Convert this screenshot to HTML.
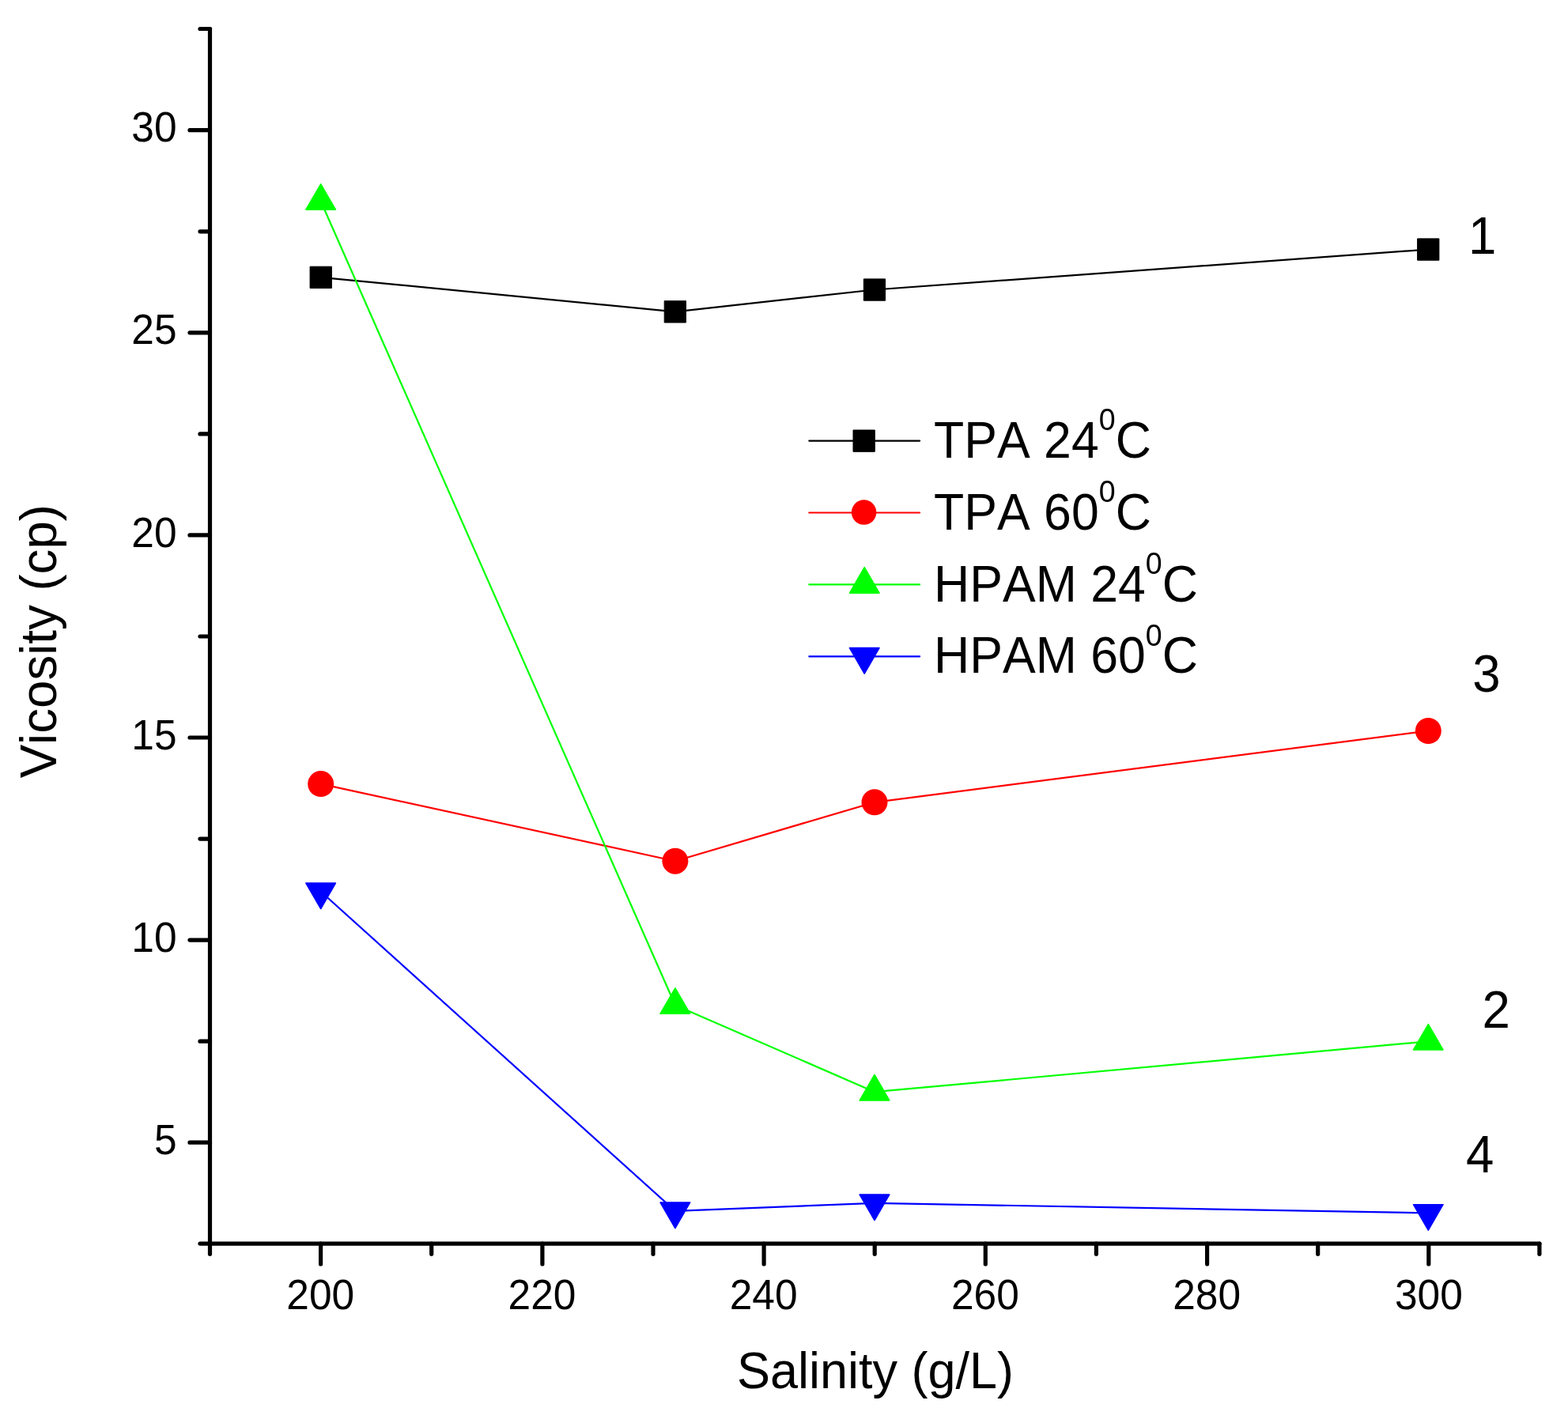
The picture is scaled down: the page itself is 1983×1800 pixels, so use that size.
<!DOCTYPE html>
<html lang="en">
<head>
<meta charset="utf-8">
<title>Viscosity vs Salinity</title>
<style>
html,body{margin:0;padding:0;background:#fff;}
body{width:1983px;height:1800px;overflow:hidden;}
svg{display:block;}
text{font-family:"Liberation Sans",Arial,Helvetica,sans-serif;fill:#000;font-kerning:none;}
</style>
</head>
<body>
<svg width="1983" height="1800" viewBox="0 0 1983 1800">
<rect width="1983" height="1800" fill="#fff"/>
<g stroke="#000" stroke-width="5.2" stroke-linecap="round" fill="none">
<line x1="265.5" y1="36.5" x2="265.5" y2="1573.1"/>
<line x1="265.5" y1="1573.1" x2="1946.9" y2="1573.1"/>
<line x1="240.0" y1="164.7" x2="265.5" y2="164.7"/>
<line x1="240.0" y1="420.8" x2="265.5" y2="420.8"/>
<line x1="240.0" y1="676.9" x2="265.5" y2="676.9"/>
<line x1="240.0" y1="933.0" x2="265.5" y2="933.0"/>
<line x1="240.0" y1="1189.1" x2="265.5" y2="1189.1"/>
<line x1="240.0" y1="1445.2" x2="265.5" y2="1445.2"/>
<line x1="253.0" y1="36.5" x2="265.5" y2="36.5"/>
<line x1="253.0" y1="292.8" x2="265.5" y2="292.8"/>
<line x1="253.0" y1="548.9" x2="265.5" y2="548.9"/>
<line x1="253.0" y1="805.0" x2="265.5" y2="805.0"/>
<line x1="253.0" y1="1061.1" x2="265.5" y2="1061.1"/>
<line x1="253.0" y1="1317.2" x2="265.5" y2="1317.2"/>
<line x1="253.0" y1="1573.1" x2="265.5" y2="1573.1"/>
<line x1="405.6" y1="1573.1" x2="405.6" y2="1598.9"/>
<line x1="685.9" y1="1573.1" x2="685.9" y2="1598.9"/>
<line x1="966.1" y1="1573.1" x2="966.1" y2="1598.9"/>
<line x1="1246.3" y1="1573.1" x2="1246.3" y2="1598.9"/>
<line x1="1526.6" y1="1573.1" x2="1526.6" y2="1598.9"/>
<line x1="1806.8" y1="1573.1" x2="1806.8" y2="1598.9"/>
<line x1="265.5" y1="1573.1" x2="265.5" y2="1586.3"/>
<line x1="545.7" y1="1573.1" x2="545.7" y2="1586.3"/>
<line x1="826.0" y1="1573.1" x2="826.0" y2="1586.3"/>
<line x1="1106.2" y1="1573.1" x2="1106.2" y2="1586.3"/>
<line x1="1386.4" y1="1573.1" x2="1386.4" y2="1586.3"/>
<line x1="1666.7" y1="1573.1" x2="1666.7" y2="1586.3"/>
<line x1="1946.9" y1="1573.1" x2="1946.9" y2="1586.3"/>
</g>
<text transform="translate(223.60 179.30) scale(1 1.035)" font-size="51.5" text-anchor="end">30</text>
<text transform="translate(223.60 435.40) scale(1 1.035)" font-size="51.5" text-anchor="end">25</text>
<text transform="translate(223.60 691.50) scale(1 1.035)" font-size="51.5" text-anchor="end">20</text>
<text transform="translate(223.60 947.60) scale(1 1.035)" font-size="51.5" text-anchor="end">15</text>
<text transform="translate(223.60 1203.70) scale(1 1.035)" font-size="51.5" text-anchor="end">10</text>
<text transform="translate(223.60 1459.80) scale(1 1.035)" font-size="51.5" text-anchor="end">5</text>
<text transform="translate(405.22 1656.00) scale(1 1.035)" font-size="51.5" text-anchor="middle">200</text>
<text transform="translate(685.45 1656.00) scale(1 1.035)" font-size="51.5" text-anchor="middle">220</text>
<text transform="translate(965.68 1656.00) scale(1 1.035)" font-size="51.5" text-anchor="middle">240</text>
<text transform="translate(1245.92 1656.00) scale(1 1.035)" font-size="51.5" text-anchor="middle">260</text>
<text transform="translate(1526.15 1656.00) scale(1 1.035)" font-size="51.5" text-anchor="middle">280</text>
<text transform="translate(1806.89 1656.00) scale(1 1.035)" font-size="51.5" text-anchor="middle">300</text>
<text transform="translate(1107.00 1756.00) scale(1 1.02)" font-size="63" text-anchor="middle">Salinity (g/L)</text>
<text transform="translate(70.50 811.20) rotate(-90) scale(1 1.02)" font-size="63.6" text-anchor="middle">Vicosity (cp)</text>
<polyline points="405.7,350.8 853.9,394.3 1106.0,366.5 1806.3,315.5" fill="none" stroke="#000000" stroke-width="2.2" stroke-linecap="round" stroke-linejoin="round"/>
<rect x="392.1" y="337.2" width="27.3" height="27.3" fill="#000000" stroke="#000000" stroke-width="1" stroke-linejoin="round"/>
<rect x="840.2" y="380.7" width="27.3" height="27.3" fill="#000000" stroke="#000000" stroke-width="1" stroke-linejoin="round"/>
<rect x="1092.3" y="352.9" width="27.3" height="27.3" fill="#000000" stroke="#000000" stroke-width="1" stroke-linejoin="round"/>
<rect x="1792.6" y="301.9" width="27.3" height="27.3" fill="#000000" stroke="#000000" stroke-width="1" stroke-linejoin="round"/>
<polyline points="405.7,991.6 853.9,1089.2 1106.0,1014.8 1806.3,924.5" fill="none" stroke="#ff0000" stroke-width="2.2" stroke-linecap="round" stroke-linejoin="round"/>
<circle cx="405.7" cy="991.6" r="16.5" fill="#ff0000"/>
<circle cx="853.9" cy="1089.2" r="16.5" fill="#ff0000"/>
<circle cx="1106.0" cy="1014.8" r="16.5" fill="#ff0000"/>
<circle cx="1806.3" cy="924.5" r="16.5" fill="#ff0000"/>
<polyline points="405.7,254.5 853.9,1271.5 1106.0,1381.2 1806.3,1317.3" fill="none" stroke="#00ff00" stroke-width="2.2" stroke-linecap="round" stroke-linejoin="round"/>
<polygon points="405.7,232.8 424.4,265.2 386.9,265.2" fill="#00ff00" stroke="#00ff00" stroke-width="1.6" stroke-linejoin="round"/>
<polygon points="853.9,1249.8 872.6,1282.2 835.1,1282.2" fill="#00ff00" stroke="#00ff00" stroke-width="1.6" stroke-linejoin="round"/>
<polygon points="1106.0,1359.5 1124.8,1391.9 1087.2,1391.9" fill="#00ff00" stroke="#00ff00" stroke-width="1.6" stroke-linejoin="round"/>
<polygon points="1806.3,1295.6 1825.0,1328.0 1787.5,1328.0" fill="#00ff00" stroke="#00ff00" stroke-width="1.6" stroke-linejoin="round"/>
<polyline points="405.7,1127.8 853.9,1531.8 1106.0,1521.8 1806.3,1534.4" fill="none" stroke="#0000ff" stroke-width="2.2" stroke-linecap="round" stroke-linejoin="round"/>
<polygon points="405.7,1149.5 424.4,1117.1 386.9,1117.1" fill="#0000ff" stroke="#0000ff" stroke-width="1.6" stroke-linejoin="round"/>
<polygon points="853.9,1553.5 872.6,1521.1 835.1,1521.1" fill="#0000ff" stroke="#0000ff" stroke-width="1.6" stroke-linejoin="round"/>
<polygon points="1106.0,1543.5 1124.8,1511.1 1087.2,1511.1" fill="#0000ff" stroke="#0000ff" stroke-width="1.6" stroke-linejoin="round"/>
<polygon points="1806.3,1556.1 1825.0,1523.7 1787.5,1523.7" fill="#0000ff" stroke="#0000ff" stroke-width="1.6" stroke-linejoin="round"/>
<line x1="1023.3" y1="557.6" x2="1163.1" y2="557.6" stroke="#000000" stroke-width="2.2" stroke-linecap="round"/>
<rect x="1079.0" y="544.0" width="27.3" height="27.3" fill="#000000" stroke="#000000" stroke-width="1" stroke-linejoin="round"/>
<text transform="translate(1181.00 578.70) scale(1 1.035)" font-size="62.6">TPA 24<tspan font-size="37.6" dy="-33.1401">0</tspan><tspan dy="33.1401">C</tspan></text>
<line x1="1023.3" y1="648.5" x2="1163.1" y2="648.5" stroke="#ff0000" stroke-width="2.2" stroke-linecap="round"/>
<circle cx="1092.6" cy="648.1" r="15.75" fill="#ff0000"/>
<text transform="translate(1181.00 669.70) scale(1 1.035)" font-size="62.6">TPA 60<tspan font-size="37.6" dy="-33.1401">0</tspan><tspan dy="33.1401">C</tspan></text>
<line x1="1023.3" y1="739.4" x2="1163.1" y2="739.4" stroke="#00ff00" stroke-width="2.2" stroke-linecap="round"/>
<polygon points="1093.2,717.7 1112.0,750.1 1074.5,750.1" fill="#00ff00" stroke="#00ff00" stroke-width="1.6" stroke-linejoin="round"/>
<text transform="translate(1181.00 760.70) scale(1 1.035)" font-size="62.6">HPAM 24<tspan font-size="37.6" dy="-33.1401">0</tspan><tspan dy="33.1401">C</tspan></text>
<line x1="1023.3" y1="830.3" x2="1163.1" y2="830.3" stroke="#0000ff" stroke-width="2.2" stroke-linecap="round"/>
<polygon points="1093.2,852.0 1112.0,819.6 1074.5,819.6" fill="#0000ff" stroke="#0000ff" stroke-width="1.6" stroke-linejoin="round"/>
<text transform="translate(1181.00 851.40) scale(1 1.035)" font-size="62.6">HPAM 60<tspan font-size="37.6" dy="-33.1401">0</tspan><tspan dy="33.1401">C</tspan></text>
<text transform="translate(1857.00 320.80) scale(1 1.035)" font-size="63.6">1</text>
<text transform="translate(1862.20 875.00) scale(1 1.035)" font-size="63.6">3</text>
<text transform="translate(1874.50 1300.20) scale(1 1.035)" font-size="63.6">2</text>
<text transform="translate(1854.00 1482.80) scale(1 1.035)" font-size="63.6">4</text>
</svg>
</body>
</html>
